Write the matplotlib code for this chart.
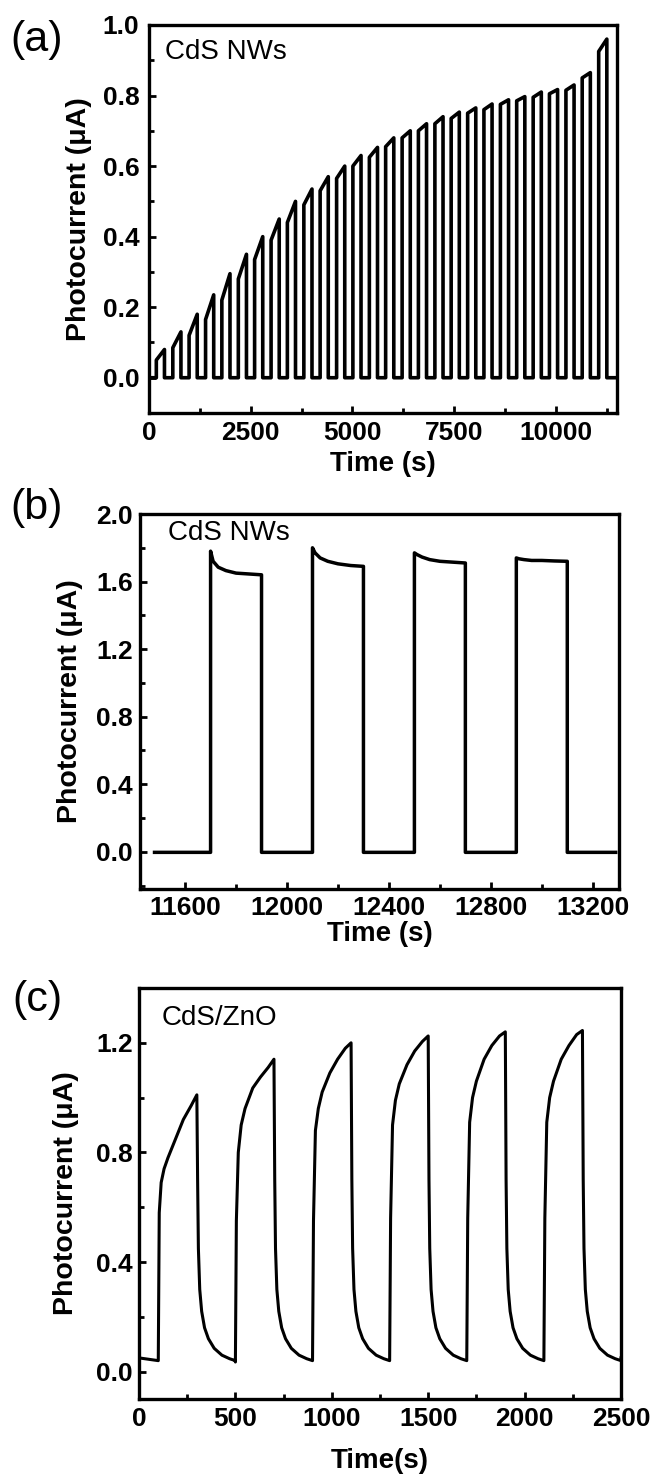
import matplotlib
matplotlib.use("Agg")
import matplotlib.pyplot as plt
from matplotlib.ticker import MultipleLocator, FormatStrFormatter

plt.rcParams['font.family'] = ['Liberation Sans', 'DejaVu Sans']

# ---------------- Panel (a) data ----------------
a_rise = [180, 585, 985, 1390, 1790, 2195, 2595, 3000, 3400, 3805, 4205, 4610,
          5010, 5415, 5815, 6220, 6620, 7025, 7425, 7830, 8230, 8635, 9035, 9440,
          9840, 10245, 10645, 11050]
a_on = 200
a_start = [0.05, 0.085, 0.12, 0.165, 0.22, 0.28, 0.335, 0.39, 0.44, 0.49, 0.53, 0.565,
           0.60, 0.625, 0.655, 0.68, 0.70, 0.72, 0.735, 0.75, 0.76, 0.775, 0.785,
           0.795, 0.805, 0.815, 0.85, 0.925]
a_peak = [0.08, 0.13, 0.18, 0.235, 0.295, 0.35, 0.40, 0.45, 0.50, 0.535, 0.57, 0.60,
          0.63, 0.653, 0.68, 0.70, 0.72, 0.74, 0.753, 0.765, 0.776, 0.788, 0.797,
          0.81, 0.817, 0.83, 0.865, 0.96]
a_t_start, a_t_end = 0, 11480

# ---------------- Panel (b) data ----------------
b_rise = [11700, 12100, 12500, 12900]
b_on = 200
b_offsets = [0, 10, 30, 60, 100, 150, 200]
b_pulses = [
    [1.78, 1.72, 1.685, 1.665, 1.65, 1.645, 1.64],
    [1.80, 1.77, 1.74, 1.72, 1.705, 1.695, 1.69],
    [1.77, 1.76, 1.745, 1.73, 1.72, 1.715, 1.71],
    [1.74, 1.735, 1.73, 1.725, 1.725, 1.722, 1.72],
]
b_base = -0.003
b_t_start, b_t_end = 11480, 13290

# ---------------- Panel (c) data ----------------
c_rise = [100, 500, 900, 1300, 1700, 2100]
c_rise_off = [0, 5, 15, 30, 50, 90, 130, 170, 200]
c_rise_vals = [
    [0.04, 0.58, 0.69, 0.74, 0.78, 0.85, 0.92, 0.97, 1.01],
    [0.035, 0.55, 0.80, 0.90, 0.96, 1.035, 1.075, 1.11, 1.14],
    [0.04, 0.55, 0.88, 0.96, 1.02, 1.09, 1.14, 1.18, 1.20],
    [0.04, 0.56, 0.90, 0.99, 1.05, 1.12, 1.17, 1.205, 1.225],
    [0.04, 0.56, 0.91, 1.00, 1.06, 1.14, 1.19, 1.225, 1.24],
    [0.04, 0.56, 0.91, 1.00, 1.06, 1.14, 1.19, 1.23, 1.245],
]
c_fall_off = [4, 8, 15, 25, 40, 60, 90, 130, 170, 200]
c_fall_vals = [0.70, 0.45, 0.30, 0.22, 0.16, 0.12, 0.085, 0.06, 0.047, 0.04]
c_t0_val = 0.05
c_t_end = 2500
c_end_val = 0.05


def trace_a():
    t, y = [a_t_start], [0.0]
    for r, s, p in zip(a_rise, a_start, a_peak):
        f = r + a_on
        t += [r, r, f, f]
        y += [0.0, s, p, 0.0]
    t.append(a_t_end); y.append(0.0)
    return t, y


def trace_b():
    t, y = [b_t_start], [b_base]
    for r, vals in zip(b_rise, b_pulses):
        t.append(r); y.append(b_base)
        for o, v in zip(b_offsets, vals):
            t.append(r + o); y.append(v)
        t.append(r + b_on); y.append(b_base)
    t.append(b_t_end); y.append(b_base)
    return t, y


def trace_c():
    t, y = [0], [c_t0_val]
    for r, vals in zip(c_rise, c_rise_vals):
        for o, v in zip(c_rise_off, vals):
            t.append(r + o); y.append(v)
        f = r + c_rise_off[-1]
        for o, v in zip(c_fall_off, c_fall_vals):
            if f + o <= c_t_end:
                t.append(f + o); y.append(v)
    t.append(c_t_end); y.append(c_end_val)
    return t, y


W, H = 655, 1475
fig = plt.figure(figsize=(W / 100, H / 100), dpi=100)


def add_axes(l, r, top, bot):
    return fig.add_axes([l / W, 1 - bot / H, (r - l) / W, (bot - top) / H])


axa = add_axes(149, 617, 25, 413)
axb = add_axes(140, 619, 514, 889)
axc = add_axes(139, 621, 988, 1399)

ta, ya = trace_a()
axa.plot(ta, ya, color='black', lw=2.6, solid_joinstyle='round')
tb, yb = trace_b()
axb.plot(tb, yb, color='black', lw=2.5, solid_joinstyle='round')
tc, yc = trace_c()
axc.plot(tc, yc, color='black', lw=2.2, solid_joinstyle='round')

axa.set_xlim(0, 11500); axa.set_ylim(-0.1, 1.0)
axa.xaxis.set_major_locator(MultipleLocator(2500)); axa.xaxis.set_minor_locator(MultipleLocator(1250))
axa.yaxis.set_major_locator(MultipleLocator(0.2)); axa.yaxis.set_minor_locator(MultipleLocator(0.1))

axb.set_xlim(11423, 13303); axb.set_ylim(-0.22, 2.0)
axb.xaxis.set_major_locator(MultipleLocator(400)); axb.xaxis.set_minor_locator(MultipleLocator(200))
axb.yaxis.set_major_locator(MultipleLocator(0.4)); axb.yaxis.set_minor_locator(MultipleLocator(0.2))

axc.set_xlim(0, 2500); axc.set_ylim(-0.1, 1.4)
axc.xaxis.set_major_locator(MultipleLocator(500)); axc.xaxis.set_minor_locator(MultipleLocator(250))
axc.yaxis.set_major_locator(MultipleLocator(0.4)); axc.yaxis.set_minor_locator(MultipleLocator(0.2))

ylab_x = [-0.15, -0.146, -0.151]
xlab_y = [-0.131, -0.12, -0.151]
ypad = [7, 5, 4.5]
xpad = [5.5, 5, 6]
xlabels = ['Time (s)', 'Time (s)', 'Time(s)']
panel = ['(a)', '(b)', '(c)']
panel_xy = [(37, 40), (37, 508), (37, 1000)]
ann = ['CdS NWs', 'CdS NWs', 'CdS/ZnO']
ann_xy = [(165, 52), (168, 533), (162, 1018)]

for i, ax in enumerate([axa, axb, axc]):
    for sp in ax.spines.values():
        sp.set_linewidth(2.4)
    ax.tick_params(which='both', direction='in', top=False, right=False, labelsize=19)
    ax.tick_params(axis='y', which='both', pad=ypad[i])
    ax.tick_params(axis='x', which='both', pad=xpad[i])
    ax.tick_params(which='major', length=5, width=2)
    ax.tick_params(which='minor', length=3.5, width=2)
    for lab in ax.get_xticklabels() + ax.get_yticklabels():
        lab.set_fontweight('bold')
    ax.yaxis.set_major_formatter(FormatStrFormatter('%.1f'))
    ax.set_ylabel('Photocurrent (\u03bcA)', fontsize=20.5, fontweight='bold')
    ax.yaxis.set_label_coords(ylab_x[i], 0.5)
    ax.yaxis.label.set_va('center')
    ax.set_xlabel(xlabels[i], fontsize=20, fontweight='bold')
    ax.xaxis.set_label_coords(0.5, xlab_y[i])
    ax.xaxis.label.set_va('center')
    fig.text(panel_xy[i][0] / W, 1 - panel_xy[i][1] / H, panel[i], fontsize=31,
             ha='center', va='center')
    fig.text(ann_xy[i][0] / W, 1 - ann_xy[i][1] / H, ann[i], fontsize=20,
             ha='left', va='center')

fig.savefig('out.png', dpi=100)
